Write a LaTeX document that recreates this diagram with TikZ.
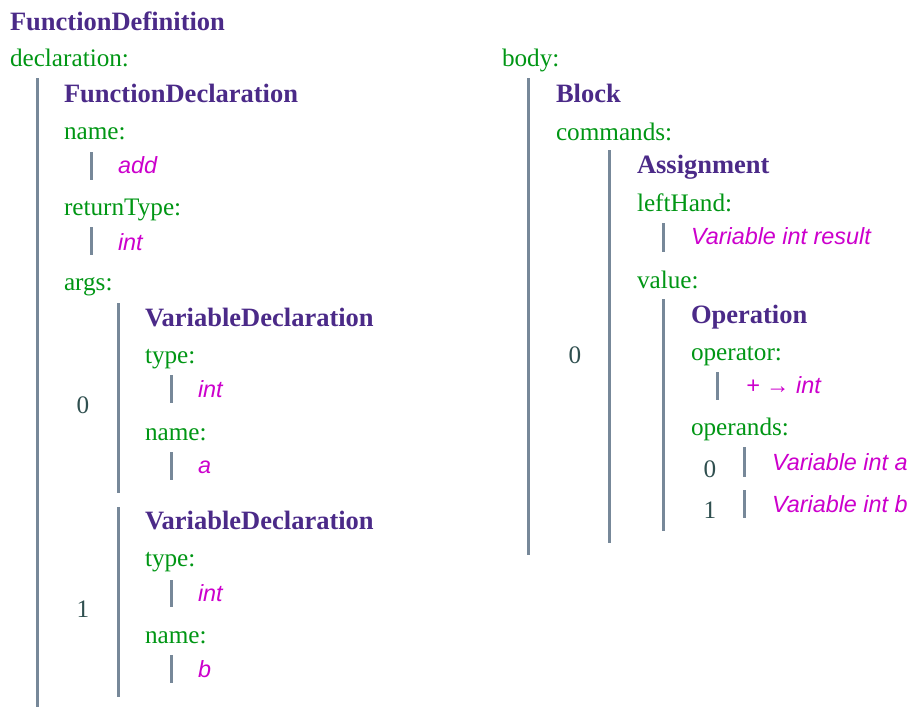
\documentclass[tikz,border=0pt]{standalone}
\usepackage{fontspec}
\setmainfont{Liberation Serif}
\newfontfamily\valfont{Liberation Sans}
\definecolor{hdcol}{HTML}{4B2A88}
\definecolor{lbcol}{HTML}{009614}
\definecolor{vlcol}{HTML}{CC00CC}
\definecolor{brcol}{HTML}{778899}
\definecolor{ixcol}{HTML}{2F4F4F}
\tikzset{
  x=1pt,y=-1pt,
  tx/.style={inner sep=0pt,outer sep=0pt,anchor=base west},
  hd/.style={tx,text=hdcol,font=\fontsize{26.5}{30}\selectfont\bfseries},
  lb/.style={tx,text=lbcol,font=\fontsize{25.2}{30}\selectfont},
  vl/.style={tx,text=vlcol,font=\fontsize{23.4}{28}\selectfont\valfont\itshape},
  ix/.style={inner sep=0pt,outer sep=0pt,anchor=base,text=ixcol,font=\fontsize{25.2}{30}\selectfont},
  bar/.style={draw=brcol,line width=3pt}
}
\begin{document}
\begin{tikzpicture}
\useasboundingbox (0,0) rectangle (912,707);
% ---------------- left column ----------------
\node[hd] (fdef) at (10,30) {FunctionDefinition};
\node[lb] (decl) at (10,66) {declaration:};
\draw[bar] (37,78) -- (37,707);
\node[hd] (fdecl) at (64,102) {FunctionDeclaration};
\node[lb] (name1) at (64,139) {name:};
\draw[bar] (91,152) -- (91,180);
\node[vl] (add) at (118,173) {add};
\node[lb] (rtype) at (64,215) {returnType:};
\draw[bar] (91,227) -- (91,255);
\node[vl] (rint) at (118,250) {int};
\node[lb] (args) at (64,290) {args:};
% arg 0
\draw[bar] (118,303) -- (118,493);
\node[ix] (i0) at (83,413) {0};
\node[hd] (vd0) at (145,326) {VariableDeclaration};
\node[lb] (type0) at (145,363) {type:};
\draw[bar] (171,375) -- (171,403);
\node[vl] (int0) at (198,397) {int};
\node[lb] (name0) at (145,440) {name:};
\draw[bar] (171,452) -- (171,480);
\node[vl] (a0) at (198,473) {a};
% arg 1
\draw[bar] (118,507) -- (118,697);
\node[ix] (i1) at (83,617) {1};
\node[hd] (vd1) at (145,529) {VariableDeclaration};
\node[lb] (type1) at (145,566) {type:};
\draw[bar] (171,580) -- (171,607);
\node[vl] (int1) at (198,601) {int};
\node[lb] (name1b) at (145,643) {name:};
\draw[bar] (171,655) -- (171,683);
\node[vl] (b1) at (198,677) {b};
% ---------------- right column ----------------
\node[lb] (body) at (502,66) {body:};
\draw[bar] (528,78) -- (528,555);
\node[hd] (block) at (556,102) {Block};
\node[lb] (cmds) at (556,140) {commands:};
\draw[bar] (609,150) -- (609,543);
\node[ix] (c0) at (575,363) {0};
\node[hd] (asg) at (637,173) {Assignment};
\node[lb] (lh) at (637,211) {leftHand:};
\draw[bar] (663,223) -- (663,252);
\node[vl] (vres) at (691,244) {Variable int result};
\node[lb] (val) at (637,288) {value:};
\draw[bar] (663,299) -- (663,531);
\node[hd] (op) at (691,323) {Operation};
\node[lb] (opr) at (691,360) {operator:};
\draw[bar] (717,372) -- (717,400);
\node[vl] (plus) at (746,393) {+ → int};
\node[lb] (opnds) at (691,435) {operands:};
\node[ix] (o0) at (710,477) {0};
\draw[bar] (744,447) -- (744,477);
\node[vl] (va) at (772,470) {Variable int a};
\node[ix] (o1) at (710,518) {1};
\draw[bar] (744,490) -- (744,518);
\node[vl] (vb) at (772,512) {Variable int b};
\end{tikzpicture}
\end{document}
